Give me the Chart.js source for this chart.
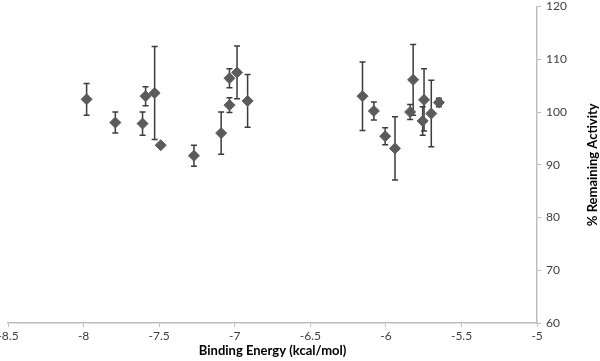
<!DOCTYPE html>
<html>
<head>
<meta charset="utf-8">
<script src="https://cdn.jsdelivr.net/npm/chart.js@4.4.0/dist/chart.umd.min.js"></script>
<style>
  html, body { margin: 0; padding: 0; background: #fff; }
  #wrap { width: 600px; height: 361px; }
</style>
</head>
<body>
<div id="wrap"><canvas id="myChart" width="600" height="361"></canvas></div>
<script>
// binding energy (kcal/mol), % remaining activity, +/- error
var energy   = [-7.98, -7.79, -7.61, -7.59, -7.53, -7.49, -7.27, -7.09, -7.035, -7.035, -6.985, -6.915,
                -6.155, -6.08, -6.005, -5.94, -5.84, -5.82, -5.757, -5.748, -5.70, -5.65];
var activity = [102.4, 98.0, 97.8, 103.0, 103.6, 93.7, 91.7, 96.0, 101.3, 106.4, 107.5, 102.1,
                103.0, 100.2, 95.4, 93.1, 100.0, 106.1, 98.3, 102.3, 99.7, 101.8];
var errors   = [3.0, 2.0, 2.2, 1.8, 8.8, 0.3, 2.0, 4.0, 1.4, 1.8, 5.0, 5.0,
                6.5, 1.7, 1.6, 6.0, 1.4, 6.7, 2.7, 5.9, 6.3, 0.8];
var xTicks = [-8.5, -8, -7.5, -7, -6.5, -6, -5.5, -5];
var yTicks = [60, 70, 80, 90, 100, 110, 120];

var markerColor = '#5b5b5b';
var barColor = '#3c3c3c';
var tickFont = { family: 'Lato, "Open Sans", sans-serif', size: 12 };

var points = energy.map(function (e, i) { return { x: e, y: activity[i] }; });

// error bars drawn from the chart's own scales
var errorBarPlugin = {
    id: 'errorBars',
    beforeDatasetsDraw: function (chart) {
        var ctx = chart.ctx;
        var xs = chart.scales.x, ys = chart.scales.y;
        ctx.save();
        ctx.strokeStyle = barColor;
        ctx.lineWidth = 1.5;
        for (var i = 0; i < energy.length; i++) {
            var px = xs.getPixelForValue(energy[i]);
            var top = ys.getPixelForValue(activity[i] + errors[i]);
            var bot = ys.getPixelForValue(activity[i] - errors[i]);
            ctx.beginPath();
            ctx.moveTo(px, top); ctx.lineTo(px, bot);
            ctx.moveTo(px - 3, top); ctx.lineTo(px + 3, top);
            ctx.moveTo(px - 3, bot); ctx.lineTo(px + 3, bot);
            ctx.stroke();
        }
        ctx.restore();
    }
};

// y title on the right, reading bottom to top
var yTitlePlugin = {
    id: 'yTitle',
    afterDraw: function (chart) {
        var ctx = chart.ctx;
        var area = chart.chartArea;
        ctx.save();
        ctx.translate(593, (area.top + area.bottom) / 2);
        ctx.rotate(-Math.PI / 2);
        ctx.font = 'bold 13px Lato, "Open Sans", sans-serif';
        ctx.fillStyle = '#000';
        ctx.textAlign = 'center';
        ctx.textBaseline = 'middle';
        ctx.fillText('% Remaining Activity', 0, 0);
        ctx.restore();
    }
};

var canvas = document.getElementById('myChart');
var myChart = new Chart(canvas.getContext('2d'), {
    type: 'scatter',
    data: {
        datasets: [{
            data: points,
            pointStyle: 'rectRot',
            pointRadius: 5.5,
            pointHoverRadius: 5.5,
            backgroundColor: markerColor,
            borderColor: markerColor,
            borderWidth: 1
        }]
    },
    options: {
        responsive: false,
        animation: false,
        layout: { padding: { left: 0, right: 28, top: 3, bottom: 2 } },
        plugins: {
            legend: { display: false },
            tooltip: { enabled: false }
        },
        scales: {
            x: {
                type: 'linear',
                min: -8.5,
                max: -5,
                afterBuildTicks: function (axis) {
                    axis.ticks = xTicks.map(function (v) { return { value: v }; });
                },
                afterFit: function (axis) {
                    axis.paddingLeft = 8;
                },
                grid: { drawOnChartArea: false, color: '#bdbdbd', tickLength: 4 },
                border: { color: '#bdbdbd', width: 1.5 },
                ticks: {
                    color: '#404040', font: tickFont, padding: 2, maxRotation: 0,
                    callback: function (v) { return String(v); }
                },
                title: {
                    display: true,
                    text: 'Binding Energy (kcal/mol)',
                    color: '#000',
                    font: { family: 'Lato, "Open Sans", sans-serif', size: 13, weight: 'bold' },
                    padding: { top: -2, bottom: 0 }
                }
            },
            y: {
                type: 'linear',
                position: 'right',
                min: 60,
                max: 120,
                afterBuildTicks: function (axis) {
                    axis.ticks = yTicks.map(function (v) { return { value: v }; });
                },
                afterFit: function (axis) {
                    axis.paddingTop = 0;
                    axis.paddingBottom = 0;
                },
                grid: { drawOnChartArea: false, color: '#bdbdbd', tickLength: 4 },
                border: { color: '#bdbdbd', width: 1.5 },
                ticks: { color: '#404040', font: tickFont, padding: 5 }
            }
        }
    },
    plugins: [errorBarPlugin, yTitlePlugin]
});
</script>
</body>
</html>
